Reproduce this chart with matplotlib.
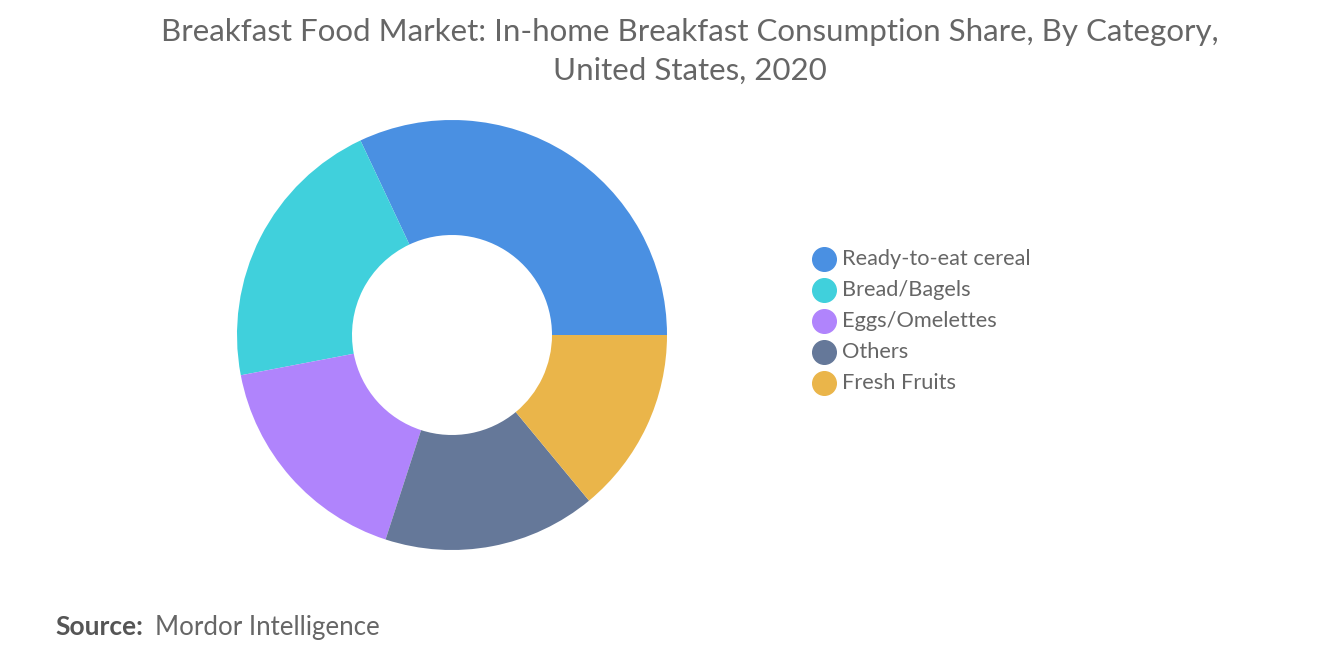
import matplotlib
matplotlib.use("Agg")
import matplotlib.pyplot as plt
from matplotlib.lines import Line2D

categories = ["Ready-to-eat cereal", "Bread/Bagels", "Eggs/Omelettes", "Others", "Fresh Fruits"]
shares = [32, 21, 17, 16, 14]
colors = ["#4A90E2", "#40D0DC", "#B084FC", "#657899", "#EAB54A"]

W, H = 1320, 665
fig = plt.figure(figsize=(W/100, H/100), dpi=100)
cx, cy, r = 452, 335, 215
ax = fig.add_axes([(cx-r)/W, (H-cy-r)/H, 2*r/W, 2*r/H])
ax.pie(shares, colors=colors, startangle=0, counterclock=True, radius=1,
       wedgeprops=dict(width=1-100/215, linewidth=0))
ax.set_xlim(-1, 1); ax.set_ylim(-1, 1); ax.set_aspect("auto"); ax.axis("off")

fig.text(690/W, 1-32/H, "Breakfast Food Market: In-home Breakfast Consumption Share, By Category,",
         ha="center", va="center", fontsize=22.5, color="#666666", family="Lato")
fig.text(690/W, 1-71/H, "United States, 2020",
         ha="center", va="center", fontsize=22.5, color="#666666", family="Lato")

for i, (c, col) in enumerate(zip(categories, colors)):
    y = 259 + i*31
    fig.add_artist(Line2D([824/W], [1-y/H], marker="o", markersize=17, color=col,
                          transform=fig.transFigure, linestyle=""))
    fig.text(842/W, 1-y/H, c, ha="left", va="center", fontsize=15.7, color="#666666", family="Lato")

fig.text(55/W, 1-627/H, "Source:", ha="left", va="center", fontsize=19, color="#555555",
         family="Lato", weight="bold")
fig.text(155/W, 1-627/H, "Mordor Intelligence", ha="left", va="center", fontsize=18.6,
         color="#666666", family="Lato")

fig.savefig("out.png", dpi=100)
